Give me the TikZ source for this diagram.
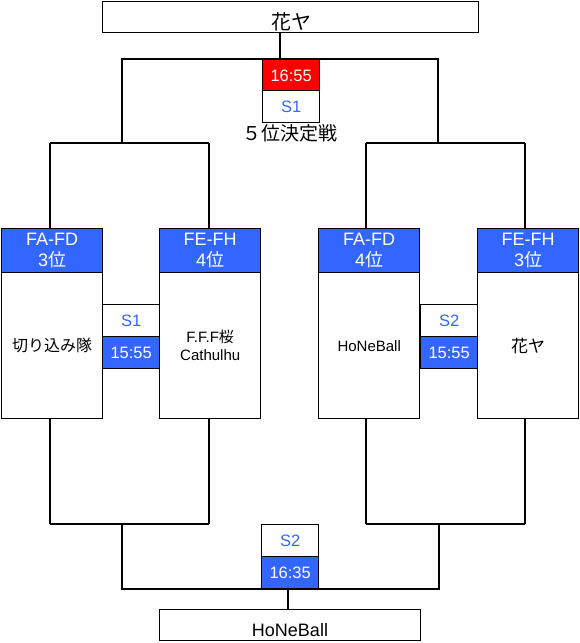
\documentclass[tikz,border=0pt]{standalone}
\usepackage{fontspec}
\setmainfont{Liberation Sans}
\newfontfamily\jp{Noto Sans CJK JP}
\definecolor{hblue}{HTML}{3366FF}
\definecolor{hred}{HTML}{FF0000}
\begin{document}
\begin{tikzpicture}[x=1pt,y=-1pt,
  ln/.style={line width=1.4pt},
  bx/.style={draw,line width=1.4pt,anchor=north west,inner sep=0pt,fill=white,align=center},
  hd/.style={bx,fill=hblue,text=white,font=\fontsize{18}{21.5}\selectfont,minimum width=101pt,minimum height=44pt},
  body/.style={bx,font=\fontsize{15}{18}\selectfont,minimum width=101pt,minimum height=146pt},
  sm/.style={bx,minimum width=57pt,minimum height=32pt,font=\fontsize{16.5}{18}\selectfont},
  smw/.style={sm,text=hblue},
  smb/.style={sm,fill=hblue,text=white},
  smr/.style={sm,fill=hred,text=white},
  lbl/.style={inner sep=0pt}]
\useasboundingbox (0,0) rectangle (580,643);
% connector coordinates
\coordinate (t1) at (280,32);
\coordinate (t2) at (280,59);
\coordinate (tl) at (122,59);
\coordinate (tr) at (438,59);
\coordinate (tlb) at (122,143);
\coordinate (trb) at (438,143);
\coordinate (a1) at (50,143);
\coordinate (a2) at (209,143);
\coordinate (a3) at (366,143);
\coordinate (a4) at (525,143);
\coordinate (b1) at (50,524);
\coordinate (b2) at (209,524);
\coordinate (b3) at (366,524);
\coordinate (b4) at (525,524);
\coordinate (bl) at (122,524);
\coordinate (br) at (439,524);
\coordinate (bl2) at (122,589);
\coordinate (br2) at (439,589);
\coordinate (bm) at (288,589);
% lines
\draw[ln] (t1) -- (t2);
\draw[ln] (tlb) -- (tl) -- (tr) -- (trb);
\draw[ln] (a1) -- (a2);
\draw[ln] (a3) -- (a4);
\draw[ln] (b1) -- (b2);
\draw[ln] (b3) -- (b4);
\draw[ln] (bl) -- (bl2) -- (br2) -- (br);
% top winner box
\node[bx,minimum width=376pt,minimum height=31pt] (top) at (102,1) {};
\node[lbl,font=\jp\fontsize{20}{22}\selectfont] (toptxt) at (291,22) {花ヤ};
% final boxes
\node[smr] (t555) at (262,59) {16:55};
\node[smw] (ts1) at (262,90) {S1};
\node[lbl,font=\fontsize{19}{22}\selectfont] (rank5) at (290,133) {\jp ５位決定戦};
% team headers and bodies
\node[hd] (h1) at (1,228) {FA-FD\\3{\jp 位}};
\node[hd] (h2) at (159,228) {FE-FH\\4{\jp 位}};
\node[hd] (h3) at (318,228) {FA-FD\\4{\jp 位}};
\node[hd] (h4) at (477,228) {FE-FH\\3{\jp 位}};
\node[body,font=\jp\fontsize{16}{18}\selectfont] (p1) at (1,272) {切り込み隊};
\node[body,font=\fontsize{15}{18}\selectfont] (p2) at (159,272) {F.F.F{\jp 桜}\\Cathulhu};
\node[body,font=\fontsize{15}{18}\selectfont] (p3) at (318,272) {HoNeBall};
\node[body,font=\jp\fontsize{17}{18}\selectfont] (p4) at (477,272) {花ヤ};
% vertical connectors to teams
\draw[ln] (a1) -- (a1 |- h1.north);
\draw[ln] (a2) -- (a2 |- h2.north);
\draw[ln] (a3) -- (a3 |- h3.north);
\draw[ln] (a4) -- (a4 |- h4.north);
\draw[ln] (b1 |- p1.south) -- (b1);
\draw[ln] (b2 |- p2.south) -- (b2);
\draw[ln] (b3 |- p3.south) -- (b3);
\draw[ln] (b4 |- p4.south) -- (b4);
% semifinal match boxes
\node[smw] (m1s) at (102,304) {S1};
\node[smb] (m1t) at (102,336) {15:55};
\node[smw] (m2s) at (420,304) {S2};
\node[smb] (m2t) at (420,336) {15:55};
% bottom match
\node[smw] (bs2) at (261,524) {S2};
\node[smb] (bt) at (261,556) {16:35};
\node[bx,minimum width=261pt,minimum height=31pt] (bot) at (159,609) {};
\node[lbl,font=\fontsize{18}{20}\selectfont] (bottxt) at (290,630) {HoNeBall};
\draw[ln] (bm) -- (bm |- bot.north);
\end{tikzpicture}
\end{document}
